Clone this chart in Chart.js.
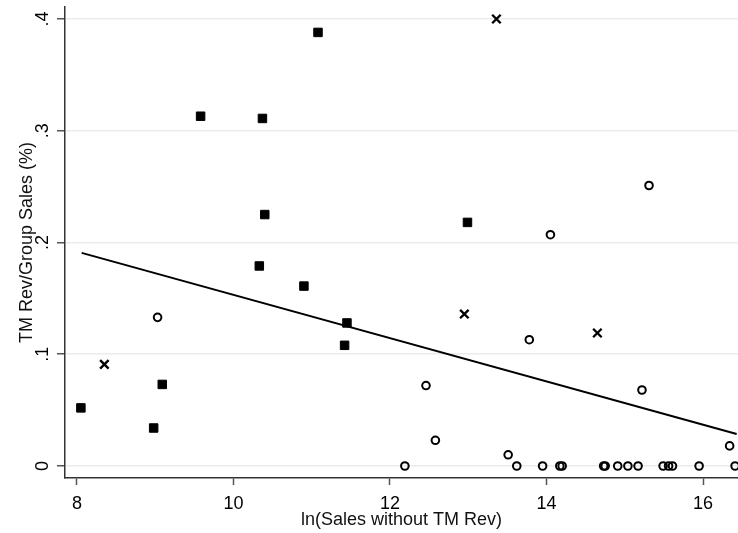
<!DOCTYPE html>
<html>
<head>
<meta charset="utf-8">
<script src="https://cdn.jsdelivr.net/npm/chart.js@4"></script>
<style>
  html, body { margin: 0; padding: 0; background: #fff; }
  canvas { display: block; }
</style>
</head>
<body>
<canvas id="scatterChart" width="738" height="533"></canvas>
<script>
// Values
const filledX = [8.05, 8.98, 9.09, 9.58, 10.33, 10.37, 10.40, 10.90, 11.08, 11.42, 11.45, 12.99];
const filledY = [0.052, 0.034, 0.073, 0.313, 0.179, 0.311, 0.225, 0.161, 0.388, 0.108, 0.128, 0.218];

const crossX = [8.35, 12.95, 13.36, 14.65];
const crossY = [0.091, 0.136, 0.400, 0.119];

const hollowX = [9.03, 12.19, 12.46, 12.58, 13.51, 13.62, 13.78, 13.95, 14.05, 14.17, 14.20, 14.73,
                 14.75, 14.91, 15.04, 15.17, 15.22, 15.31, 15.49, 15.56, 15.61, 15.95, 16.34, 16.41];
const hollowY = [0.133, 0, 0.072, 0.023, 0.010, 0, 0.113, 0, 0.207, 0, 0, 0,
                 0, 0, 0, 0, 0.068, 0.251, 0, 0, 0, 0, 0.018, 0];

// fitted line end points
const fitX = [8.06, 16.43];
const fitY = [0.1907, 0.0286];

const xTicks = [8, 10, 12, 14, 16];
const yTicks = [0, 0.1, 0.2, 0.3, 0.4];

// Helper to zip two arrays into {x, y} points
function toPoints(xs, ys) {
    return xs.map((x, i) => ({ x: x, y: ys[i] }));
}

// Stata style labels: .1 .2 ... and 0
function yLabel(v) {
    if (v === 0) return '0';
    return String(Math.round(v * 10) / 10).replace(/^0/, '');
}

const fontFamily = "'Liberation Sans', Arial, sans-serif";

const ctx = document.getElementById('scatterChart').getContext('2d');
const chart = new Chart(ctx, {
    type: 'scatter',
    data: {
        datasets: [
            {
                label: 'fit',
                type: 'line',
                data: toPoints(fitX, fitY),
                borderColor: '#000',
                borderWidth: 2,
                pointRadius: 0,
                fill: false
            },
            {
                label: 'filled',
                data: toPoints(filledX, filledY),
                pointStyle: 'rect',
                pointRadius: 6,
                backgroundColor: '#000',
                borderColor: '#000',
                borderWidth: 1
            },
            {
                label: 'cross',
                data: toPoints(crossX, crossY),
                pointStyle: 'crossRot',
                pointRadius: 6,
                borderColor: '#000',
                borderWidth: 2.4
            },
            {
                label: 'hollow',
                data: toPoints(hollowX, hollowY),
                pointStyle: 'circle',
                pointRadius: 3.8,
                backgroundColor: 'rgba(0,0,0,0)',
                borderColor: '#000',
                borderWidth: 2
            }
        ]
    },
    options: {
        responsive: false,
        animation: false,
        layout: { autoPadding: false, padding: { top: 7, left: 0, right: 0, bottom: 0 } },
        plugins: {
            legend: { display: false },
            tooltip: { enabled: false }
        },
        scales: {
            x: {
                type: 'linear',
                min: 7.847,
                max: 16.447,
                afterBuildTicks: (scale) => { scale.ticks = xTicks.map(v => ({ value: v })); },
                afterFit: (scale) => {
                    scale.height = 55;
                    scale.paddingLeft = 0;
                    scale.paddingRight = 0;
                },
                grid: {
                    display: true,
                    drawOnChartArea: false,
                    drawTicks: true,
                    tickLength: 7,
                    tickColor: '#555',
                    tickWidth: 1.5
                },
                border: { display: true, color: '#333', width: 1.5 },
                ticks: {
                    color: '#000',
                    padding: 8,
                    maxRotation: 0,
                    font: { family: fontFamily, size: 18 }
                },
                title: {
                    display: true,
                    text: 'ln(Sales without TM Rev)',
                    color: '#111',
                    font: { family: fontFamily, size: 18 },
                    padding: { top: 0, bottom: 2 }
                }
            },
            y: {
                type: 'linear',
                min: -0.01074,
                max: 0.41074,
                afterBuildTicks: (scale) => { scale.ticks = yTicks.map(v => ({ value: v })); },
                afterFit: (scale) => {
                    scale.width = 65;
                    scale.paddingTop = 0;
                    scale.paddingBottom = 0;
                },
                grid: {
                    color: '#ebebeb',
                    lineWidth: 1.5,
                    drawTicks: true,
                    tickLength: 8,
                    tickColor: '#555',
                    tickWidth: 1.5
                },
                border: { display: true, color: '#333', width: 1.5 },
                ticks: {
                    color: '#000',
                    padding: 6,
                    minRotation: 90,
                    maxRotation: 90,
                    crossAlign: 'center',
                    font: { family: fontFamily, size: 18 },
                    callback: (v) => yLabel(v)
                },
                title: {
                    display: true,
                    text: 'TM Rev/Group Sales (%)',
                    color: '#111',
                    font: { family: fontFamily, size: 18 },
                    padding: { top: 16, bottom: 0 }
                }
            }
        }
    }
});
</script>
</body>
</html>
